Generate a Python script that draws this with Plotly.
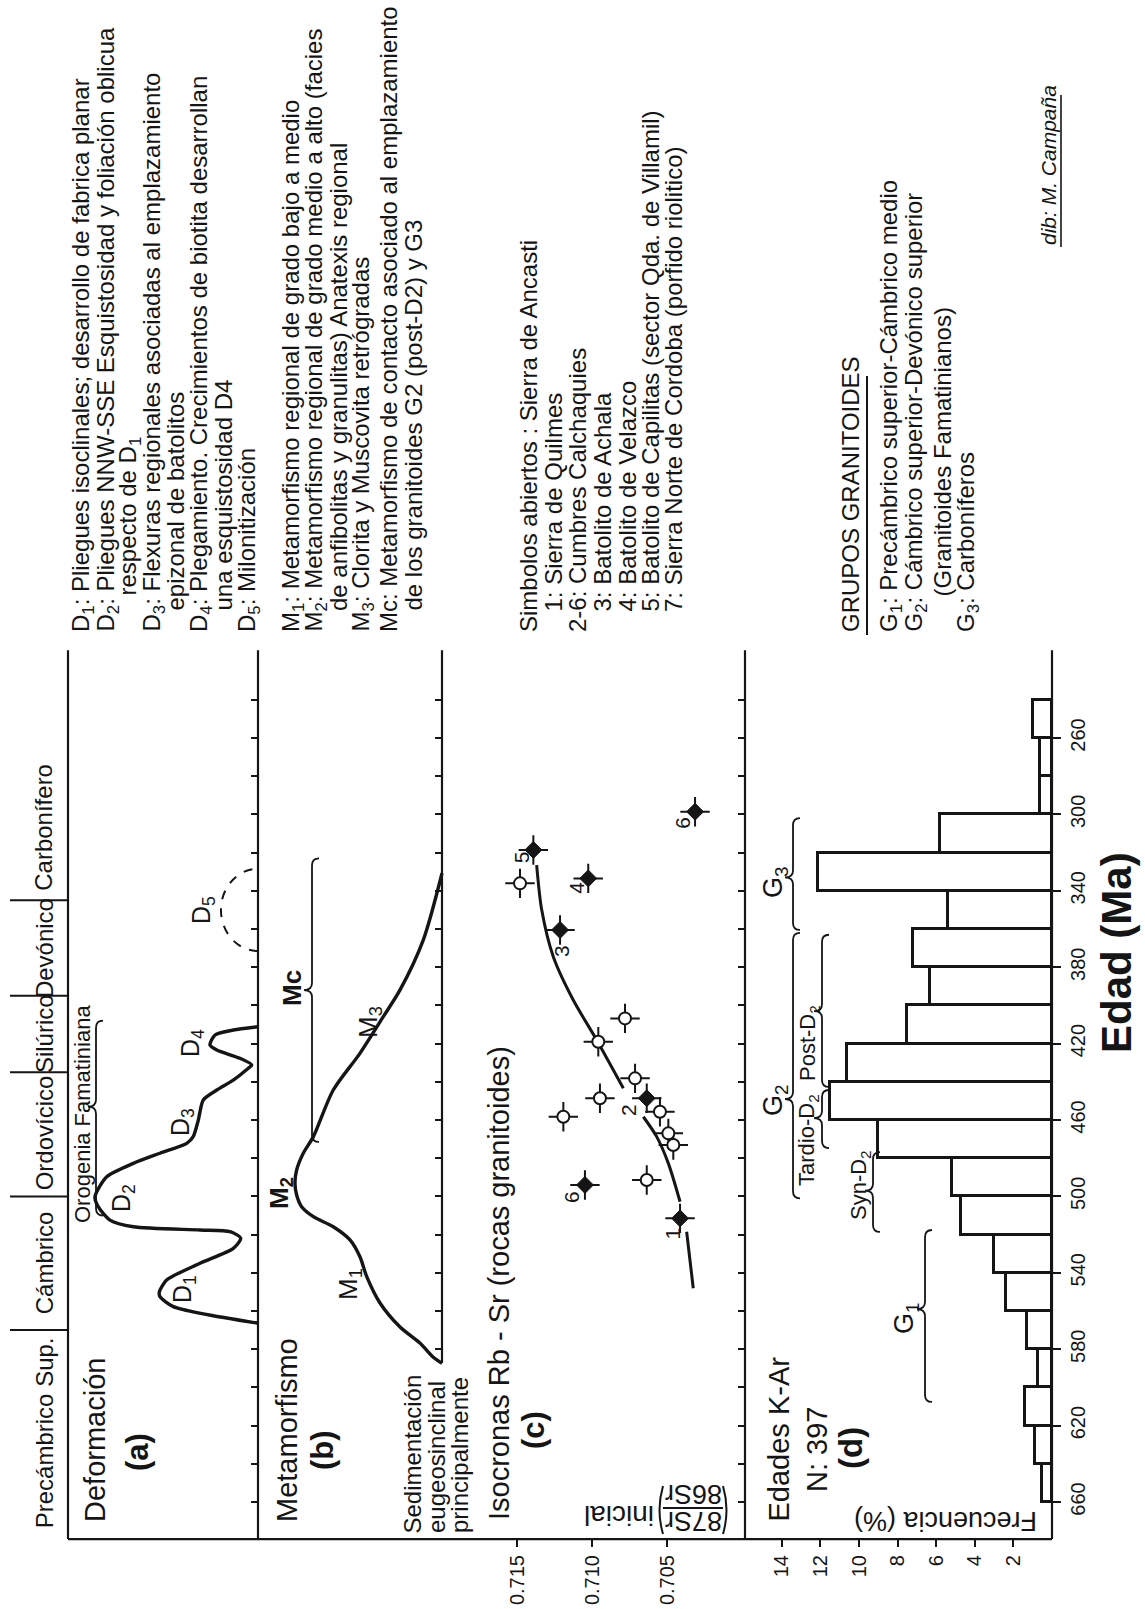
import plotly.graph_objects as go

W, H = 1145, 1609
INK = "#151515"
FONT = "Liberation Sans, Arial, Helvetica, sans-serif"

# ---------------- data ----------------
AGE_TICKS = [660, 620, 580, 540, 500, 460, 420, 380, 340, 300, 260]
AGE_TICK_TEXT = ["660", "620", "580", "540", "500", "460", "420", "380", "340", "300", "260"]
MINOR_TICKS = [240, 260, 280, 300, 320, 340, 360, 380, 400, 420, 440, 460, 480, 500,
               520, 540, 560, 580, 600, 620, 640, 660]
MINOR_TICKS_B = [240, 260, 280, 300, 320, 340, 360, 380, 400, 420, 440, 460, 480, 500,
                 520, 540, 560, 580]

PERIOD_NAMES = ["Precámbrico Sup.", "Cámbrico", "Ordovícico", "Silúrico", "Devónico", "Carbonífero"]
PERIOD_BOUNDS = [570, 500, 435, 395, 345]
PERIOD_LABEL_AGES = [624, 535, 467, 415, 370, 307]

# (a) Deformación: age (Ma) vs relative intensity
DEF_AGE = [566.4, 557.7, 552.5, 549.9, 543.8, 535.0, 527.2, 521.9, 518.5, 517.6, 515.9,
           512.4, 505.4, 500.2, 489.7, 482.7, 477.4, 472.2, 468.7, 460.0, 449.5, 444.3,
           439.1, 432.9, 431.2, 427.7, 423.4, 420.7, 415.5, 412.9, 411.2]
DEF_INT = [0.0, 0.446, 0.516, 0.519, 0.481, 0.305, 0.130, 0.091, 0.147, 0.305, 0.656,
           0.779, 0.841, 0.858, 0.796, 0.656, 0.516, 0.375, 0.341, 0.314, 0.288, 0.217,
           0.130, 0.051, 0.033, 0.095, 0.217, 0.253, 0.226, 0.130, 0.0]
D5_CENTER, D5_HALF, D5_DEPTH = 350.0, 21.5, 0.195

# (b) Metamorfismo
MET_AGE = [587.4, 584.1, 576.8, 568.4, 555.8, 542.0, 531.6, 522.8, 515.9, 510.6, 505.4,
           499.3, 493.1, 486.2, 477.4, 468.7, 444.3, 425.1, 405.9, 391.9, 365.8, 330.8]
MET_INT = [0.0, 0.049, 0.12, 0.228, 0.337, 0.409, 0.446, 0.5, 0.591, 0.699, 0.763,
           0.79, 0.799, 0.79, 0.754, 0.699, 0.591, 0.446, 0.319, 0.228, 0.102, 0.0]

# (c) Isocronas Rb-Sr
SR_FILLED_AGE = [318.6, 333.5, 360.5, 298.6, 448.6, 494.0, 511.5]
SR_FILLED_VAL = [0.71391, 0.71025, 0.71213, 0.70313, 0.70635, 0.71047, 0.70413]
SR_FILLED_LABEL = ["5", "4", "3", "6", "2", "6", "1"]
SR_OPEN_AGE = [336.1, 406.8, 419.0, 438.2, 448.6, 458.3, 455.7, 467.0, 473.1, 491.4]
SR_OPEN_VAL = [0.71480, 0.70780, 0.70958, 0.70713, 0.70947, 0.71191, 0.70547, 0.70491,
               0.70458, 0.70635]
SR_CURVE_AGE = [326.5, 350.1, 374.5, 397.2, 418.1, 443.4, None, 458.3, 468.7, 482.7, 502.8,
                None, 518.5, 533.3, 548.1]
SR_CURVE_VAL = [0.71369, 0.71335, 0.71258, 0.71125, 0.70969, 0.70791, None, 0.70658,
                0.70569, 0.70491, 0.70413, None, 0.70369, 0.70347, 0.70325]
SR_TICKS = [0.715, 0.710, 0.705]
SR_TICK_TEXT = ["0.715", "0.710", "0.705"]

# (d) Edades K-Ar histogram (20 Ma bins)
HIST_AGE = [250, 270, 290, 310, 330, 350, 370, 390, 410, 430, 450, 470, 490, 510,
            530, 550, 570, 590, 610, 630, 650]
HIST_FREQ = [1.0, 0.6, 0.6, 5.8, 12.1, 5.4, 7.2, 6.3, 7.5, 10.6, 11.5, 9.0, 5.2, 4.7,
             3.0, 2.4, 1.3, 0.7, 1.4, 0.9, 0.5]
FREQ_TICKS = [2, 4, 6, 8, 10, 12, 14]

# brace ranges (young age, old age, nub age)
ORO_RANGE = (408, 510, 453)
MC_RANGE = (323, 471.5, 392)
G3_RANGE = (302, 360.5, 333)
G2_RANGE = (362, 501, 449)
POST_RANGE = (363, 442.7, 403)
TARDIO_RANGE = (444.3, 474.7, 459)
SYN_RANGE = (476.8, 518.6, 497)
G1_RANGE = (517.6, 607.6, 559)

AGE_TOP, AGE_BOT, AGE_B_END = 214.0, 679.4, 587.2


# ---------------- helpers ----------------
def X(p):
    return p / W


def Y(p):
    return 1 - p / H


def age_of_px(p):
    return 660 - (1502 - p) / 1.91


def px_of_age(a):
    return 1502 - (660 - a) * 1.91


Y_RANGE = [age_of_px(H), age_of_px(0)]

fig = go.Figure()

# (a) curve
fig.add_trace(go.Scatter(x=DEF_INT, y=DEF_AGE, xaxis="x", yaxis="y", mode="lines",
                         line=dict(color=INK, width=3.4, shape="spline", smoothing=0.7),
                         hoverinfo="skip", showlegend=False))
# (b) curve
fig.add_trace(go.Scatter(x=MET_INT, y=MET_AGE, xaxis="x2", yaxis="y", mode="lines",
                         line=dict(color=INK, width=3.4, shape="spline", smoothing=0.8),
                         hoverinfo="skip", showlegend=False))
# (c) isochron curve + points
fig.add_trace(go.Scatter(x=SR_CURVE_VAL, y=SR_CURVE_AGE, xaxis="x3", yaxis="y", mode="lines",
                         line=dict(color=INK, width=3, shape="spline", smoothing=0.8),
                         connectgaps=False, hoverinfo="skip", showlegend=False))
fig.add_trace(go.Scatter(x=SR_OPEN_VAL + SR_FILLED_VAL, y=SR_OPEN_AGE + SR_FILLED_AGE,
                         xaxis="x3", yaxis="y", mode="markers",
                         marker=dict(symbol="cross-thin-open", size=21, color=INK,
                                     line=dict(color=INK, width=2)),
                         hoverinfo="skip", showlegend=False))
fig.add_trace(go.Scatter(x=SR_OPEN_VAL, y=SR_OPEN_AGE, xaxis="x3", yaxis="y", mode="markers",
                         marker=dict(symbol="circle", size=12, color="white",
                                     line=dict(color=INK, width=2)),
                         hoverinfo="skip", showlegend=False))
fig.add_trace(go.Scatter(x=SR_FILLED_VAL, y=SR_FILLED_AGE, xaxis="x3", yaxis="y",
                         mode="markers",
                         marker=dict(symbol="diamond", size=13, color=INK,
                                     line=dict(color=INK, width=1)),
                         hoverinfo="skip", showlegend=False))
# (d) histogram
fig.add_trace(go.Bar(y=HIST_AGE, x=HIST_FREQ, base=0, width=20, orientation="h",
                     xaxis="x4", yaxis="y",
                     marker=dict(color="white", line=dict(color=INK, width=3)),
                     hoverinfo="skip", showlegend=False))
# dummy traces to register tick-only axes
for ya in ["y2", "y3", "y4"]:
    fig.add_trace(go.Scatter(x=[None], y=[None], xaxis="x", yaxis=ya, mode="markers",
                             hoverinfo="skip", showlegend=False))

# ---------------- shapes ----------------
shapes = []


def vline(xp, a0, a1, w=2.2):
    shapes.append(dict(type="line", xref="paper", yref="y", x0=X(xp), x1=X(xp), y0=a0, y1=a1,
                       line=dict(color=INK, width=w)))


vline(68, AGE_TOP, AGE_BOT)
vline(258, AGE_TOP, AGE_BOT)
vline(442, AGE_TOP, AGE_B_END)
vline(745, AGE_TOP, AGE_BOT)
vline(1052, AGE_TOP, AGE_BOT)
shapes.append(dict(type="line", xref="paper", yref="y", x0=X(68), x1=X(1052), y0=AGE_BOT,
                   y1=AGE_BOT, line=dict(color=INK, width=2.2)))
for b in PERIOD_BOUNDS:
    shapes.append(dict(type="line", xref="paper", yref="y", x0=X(10), x1=X(68), y0=b, y1=b,
                       line=dict(color=INK, width=2)))

# D5 dashed half circle
k = 0.5523
c, r, d = D5_CENTER, D5_HALF, D5_DEPTH
shapes.append(dict(type="path", xref="x", yref="y",
                   path=(f"M 0,{c + r} C {k * d},{c + r} {d},{c + k * r} {d},{c} "
                         f"C {d},{c - k * r} {k * d},{c - r} 0,{c - r}"),
                   line=dict(color=INK, width=2, dash="dash")))


def brace(xp, rng, e=7, n=8, rr=7, w=1.8):
    a0, a1, an = rng
    y0, y1, yn = px_of_age(a0), px_of_age(a1), px_of_age(an)
    pts = [("M", [(xp + e, y0)]),
           ("Q", [(xp, y0), (xp, y0 + rr)]),
           ("L", [(xp, yn - rr)]),
           ("Q", [(xp, yn), (xp - n, yn)]),
           ("Q", [(xp, yn), (xp, yn + rr)]),
           ("L", [(xp, y1 - rr)]),
           ("Q", [(xp, y1), (xp + e, y1)])]
    s = []
    for cmd, pp in pts:
        s.append(cmd + " " + " ".join(f"{X(px):.5f},{age_of_px(py):.3f}" for px, py in pp))
    shapes.append(dict(type="path", xref="paper", yref="y", path=" ".join(s),
                       line=dict(color=INK, width=w)))


brace(96, ORO_RANGE)
brace(312, MC_RANGE)
brace(793, G3_RANGE)
brace(793, G2_RANGE)
brace(822, POST_RANGE)
brace(822, TARDIO_RANGE)
brace(873, SYN_RANGE)
brace(925, G1_RANGE)


def pline(x0, y0, x1, y1, w=2):
    shapes.append(dict(type="line", xref="paper", yref="paper", x0=X(x0), y0=Y(y0),
                       x1=X(x1), y1=Y(y1), line=dict(color=INK, width=w)))


pline(867, 635, 867, 376)        # GRUPOS underline
pline(1061, 247, 1061, 95, 1.6)  # signature underline
pline(663, 1508, 723, 1508, 2)   # fraction bar
shapes.append(dict(type="path", xref="paper", yref="paper",
                   path=f"M {X(663)},{Y(1486)} Q {X(656)},{Y(1510)} {X(663)},{Y(1534)}",
                   line=dict(color=INK, width=2)))
shapes.append(dict(type="path", xref="paper", yref="paper",
                   path=f"M {X(723)},{Y(1486)} Q {X(730)},{Y(1510)} {X(723)},{Y(1534)}",
                   line=dict(color=INK, width=2)))

# ---------------- annotations ----------------
anns = []


def ann(text, x, y, size=24, angle=-90, xa="center", ya="middle", bold=False, italic=False):
    if bold:
        text = "<b>" + text + "</b>"
    if italic:
        text = "<i>" + text + "</i>"
    anns.append(dict(text=text, x=X(x), y=Y(y), xref="paper", yref="paper", showarrow=False,
                     textangle=angle, xanchor=xa, yanchor=ya, borderpad=0,
                     font=dict(family=FONT, size=size, color=INK)))


LEGEND = [
    ("D<sub>1</sub>: Pliegues isoclinales; desarrollo de fabrica planar", 82, 633),
    ("D<sub>2</sub>: Pliegues NNW-SSE Esquistosidad y foliación oblicua", 107, 633),
    ("respecto de D<sub>1</sub>", 129, 597),
    ("D<sub>3</sub>: Flexuras regionales asociadas al emplazamiento", 153, 633),
    ("epizonal de batolitos", 175, 612),
    ("D<sub>4</sub>: Plegamiento. Crecimientos de biotita desarrollan", 200, 633),
    ("una esquistosidad D4", 223, 612),
    ("D<sub>5</sub>: Milonitización", 248, 633),
    ("M<sub>1</sub>: Metamorfismo regional de grado bajo a medio", 292, 633),
    ("M<sub>2</sub>: Metamorfismo regional de grado medio a alto (facies", 315, 633),
    ("de anfibolitas y granulitas) Anatexis regional", 338, 612),
    ("M<sub>3</sub>: Clorita y Muscovita retrógradas", 362, 633),
    ("Mc: Metamorfismo de contacto asociado al emplazamiento", 388, 633),
    ("de los granitoides G2 (post-D2) y G3", 413, 612),
    ("Simbolos abiertos : Sierra de Ancasti", 528, 633),
    ("1: Sierra de Quilmes", 553, 613),
    ("2-6: Cumbres Calchaquies", 577, 633),
    ("3: Batolito de Achala", 602, 613),
    ("4: Batolito de Velazco", 627, 613),
    ("5: Batolito de Capilitas (sector Qda. de Villamil)", 650, 613),
    ("7: Sierra Norte de Cordoba (porfido riolitico)", 673, 613),
    ("GRUPOS GRANITOIDES", 850, 633),
    ("G<sub>1</sub>: Precámbrico superior-Cámbrico medio", 890, 633),
    ("G<sub>2</sub>: Cámbrico superior-Devónico superior", 915, 633),
    ("(Granitoides Famatinianos)", 942, 598),
    ("G<sub>3</sub>: Carboníferos", 967, 633),
]
for t, x, y in LEGEND:
    ann(t, x, y, size=24, ya="bottom")

ann("dib: M. Campaña", 1048, 246, size=21, ya="bottom", italic=True)

# period labels
for name, a in zip(PERIOD_NAMES, PERIOD_LABEL_AGES):
    ann(name, 44, px_of_age(a), size=24)

# panel titles
ann("Deformación", 95, 1523, size=29, ya="bottom")
ann("(a)", 137, 1452, size=31, bold=True)
ann("Metamorfismo", 287, 1523, size=29, ya="bottom")
ann("(b)", 322, 1450, size=31, bold=True)
ann("Isocronas Rb - Sr (rocas granitoides)", 499, 1521, size=29, ya="bottom")
ann("(c)", 533, 1430, size=31, bold=True)
ann("Edades K-Ar", 778, 1523, size=29, ya="bottom")
ann("N: 397", 817, 1450, size=29)
ann("(d)", 850, 1448, size=33, bold=True)
ann("Edad (Ma)", 1116, 953, size=42, bold=True)

ann("Sedimentación", 412, 1534, size=24, ya="bottom")
ann("eugeosinclinal", 436, 1534, size=24, ya="bottom")
ann("principalmente", 459, 1534, size=24, ya="bottom")

ann("Frecuencia (%)", 946, 1521, size=27, angle=180)
ann("inicial", 619, 1516, size=28, angle=180)
ann("87Sr", 693, 1521, size=27, angle=180)
ann("86Sr", 693, 1494, size=27, angle=180)

# curve labels
ann("D<sub>1</sub>", 184, 1289, size=25)
ann("D<sub>2</sub>", 123, 1198, size=25)
ann("D<sub>3</sub>", 182, 1122, size=25)
ann("D<sub>4</sub>", 192, 1043, size=25)
ann("D<sub>5</sub>", 203, 910, size=25)
ann("Orogenia Famatiniana", 82, 1224, size=22, ya="bottom")
ann("M<sub>1</sub>", 349, 1284, size=26)
ann("M<sub>2</sub>", 280, 1193, size=26, bold=True)
ann("M<sub>3</sub>", 369, 1022, size=26)
ann("Mc", 292, 988, size=26, bold=True)

ann("G<sub>3</sub>", 775, 882, size=27)
ann("G<sub>2</sub>", 775, 1100, size=27)
ann("G<sub>1</sub>", 906, 1318, size=27)
ann("Post-D<sub>2</sub>", 809, 1043, size=22)
ann("Tardio-D<sub>2</sub>", 808, 1140, size=22)
ann("Syn-D<sub>2</sub>", 860, 1185, size=22)

# isochron point labels (data coords + pixel offsets)
LABEL_SHIFTS = [(-11, -7), (-12, -9), (2, -21), (-12, -11), (-19, -12), (-13, -12), (-8, -15)]
for lab, v, a, (dx, dy) in zip(SR_FILLED_LABEL, SR_FILLED_VAL, SR_FILLED_AGE, LABEL_SHIFTS):
    anns.append(dict(text=lab, x=v, y=a, xref="x3", yref="y", showarrow=False, textangle=-90,
                     xshift=dx, yshift=dy, font=dict(family=FONT, size=21, color=INK)))

# ---------------- layout ----------------
hidden = dict(visible=False, showgrid=False, zeroline=False, anchor="free", position=0)
tickfont = dict(family=FONT, size=20, color=INK)


def tick_y(pos, vals):
    return dict(overlaying="y", anchor="free", position=pos, side="left", range=Y_RANGE,
                autorange=False, tickvals=vals, ticks="outside", ticklen=7, tickwidth=2,
                tickcolor=INK, showticklabels=False, showgrid=False, zeroline=False,
                showline=False)


fig.update_layout(
    width=W, height=H, margin=dict(l=0, r=0, t=0, b=0), autosize=False,
    paper_bgcolor="white", plot_bgcolor="rgba(0,0,0,0)", showlegend=False,
    bargap=0,
    xaxis=dict(hidden, domain=[X(60), X(262)], range=[(258 - 60) / 190, (258 - 262) / 190]),
    xaxis2=dict(hidden, domain=[X(250), X(446)], range=[(442 - 250) / 184, (442 - 446) / 184]),
    xaxis3=dict(domain=[X(442), X(745)],
                range=[0.715 + (517 - 442) / 15000, 0.715 - (745 - 517) / 15000],
                anchor="free", position=Y(1539), tickvals=SR_TICKS, ticktext=SR_TICK_TEXT,
                ticks="outside", ticklen=7, tickwidth=2, tickcolor=INK, tickangle=-90,
                tickfont=tickfont, showgrid=False, zeroline=False, showline=False),
    xaxis4=dict(domain=[X(760), X(1062)], range=[(1052 - 760) / 19.3, (1052 - 1062) / 19.3],
                anchor="free", position=Y(1539), tickvals=FREQ_TICKS, ticks="outside",
                ticklen=7, tickwidth=2, tickcolor=INK, tickangle=-90, tickfont=tickfont,
                showgrid=False, zeroline=False, showline=False),
    yaxis=dict(domain=[0, 1], range=Y_RANGE, autorange=False, anchor="free",
               position=X(1052), side="right", tickvals=AGE_TICKS, ticktext=AGE_TICK_TEXT,
               ticks="outside", ticklen=8, tickwidth=2, tickcolor=INK, tickangle=-90,
               tickfont=tickfont, showgrid=False, zeroline=False, showline=False),
    yaxis2=tick_y(X(258), MINOR_TICKS),
    yaxis3=tick_y(X(442), MINOR_TICKS_B),
    yaxis4=tick_y(X(745), MINOR_TICKS),
    shapes=shapes,
    annotations=anns,
)

fig.write_html("out.html", config={"displayModeBar": False},
               post_script="document.body.style.margin='0';document.body.style.overflow='hidden';")
